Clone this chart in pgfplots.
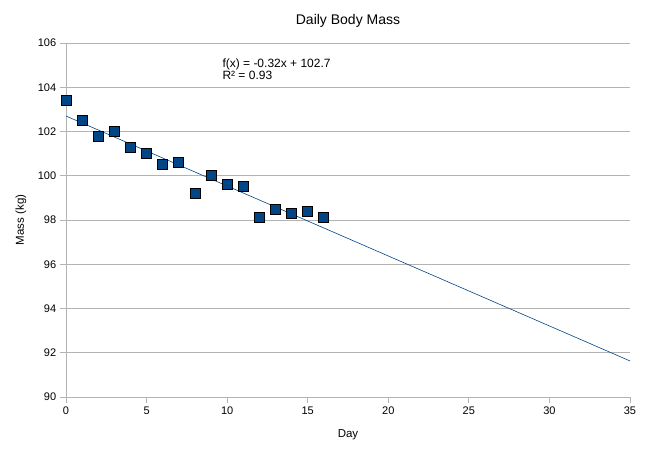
\documentclass[border=0pt]{standalone}
\usepackage{pgfplots}
\pgfplotsset{compat=1.18}
\usepackage{fontspec}
\setmainfont{Liberation Sans}
\definecolor{lobl}{HTML}{004586}
\definecolor{gridg}{HTML}{B3B3B3}
\begin{document}
\fontsize{11}{13}\selectfont
\begin{tikzpicture}[x=1pt,y=1pt]
\useasboundingbox (-66,-55) rectangle (583,397);
\begin{axis}[
    at={(0,0)}, anchor=south west,
    scale only axis,
    width=564pt, height=354pt,
    xmin=0, xmax=35, ymin=90, ymax=106,
    xtick={0,5,...,35}, ytick={90,92,...,106},
    ymajorgrids, major grid style={gridg, line width=0.8pt},
    axis line style={gridg, line width=0.8pt},
    axis x line*=bottom, axis y line*=left,
    tick align=outside, major tick length=6pt,
    tick style={gridg, line width=0.8pt},
    every tick label/.append style={font=\fontsize{11}{12}\selectfont},
    /pgf/number format/assume math mode=true,
    xlabel={Day}, ylabel={Mass (kg)},
    label style={font=\fontsize{11.5}{13}\selectfont},
    xlabel style={yshift=-7pt},
    ylabel style={yshift=4pt},
    title={Daily Body Mass},
    title style={font=\fontsize{14}{15}\selectfont, yshift=6pt},
    clip=false,
]
% linear trend line
\addplot[lobl, line width=0.6pt] coordinates {(0,102.7) (35,91.63)};
% daily measurements
\addplot[only marks, mark=square*, mark size=5pt,
         mark options={fill=lobl, draw=black, line width=0.8pt}] coordinates {
    (0,103.4) (1,102.5) (2,101.8) (3,102.0) (4,101.3) (5,101.0)
    (6,100.5) (7,100.6) (8,99.2) (9,100.0) (10,99.6) (11,99.5)
    (12,98.1) (13,98.5) (14,98.3) (15,98.4) (16,98.1)
};
\node[anchor=north west, align=left, inner sep=0pt,
      font=\fontsize{12}{12.5}\selectfont]
    at (axis cs:9.7,105.3) {f(x) = -0.32x + 102.7\\R² = 0.93};
\end{axis}
\end{tikzpicture}
\end{document}
